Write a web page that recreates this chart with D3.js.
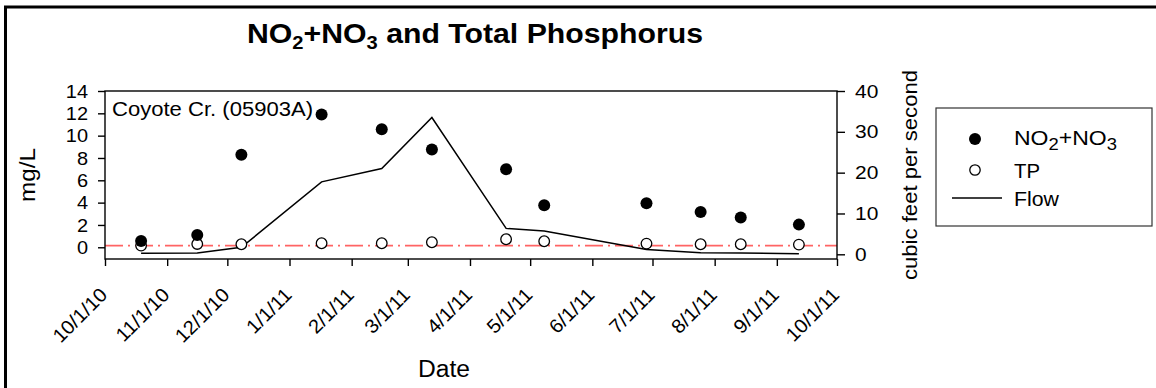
<!DOCTYPE html>
<html><head><meta charset="utf-8">
<script src="https://cdn.jsdelivr.net/npm/d3@7"></script>
<style>
body{margin:0;background:#fff}
svg{display:block}
text{font-family:"Liberation Sans",Arial,Helvetica,sans-serif;fill:#000}
</style>
</head><body>
<svg id="c" width="1156" height="388"></svg>
<script>
// ---- data ----
const sampleDates = ["2010-10-19","2010-11-16","2010-12-08","2011-01-17","2011-02-16","2011-03-13",
                     "2011-04-19","2011-05-08","2011-06-28","2011-07-25","2011-08-14","2011-09-12"];
const no2no3 = [0.57, 1.1, 8.28, 11.9, 10.58, 8.75, 7.0, 3.77, 3.95, 3.17, 2.66, 2.03];
const totalP = [0.15, 0.3, 0.27, 0.36, 0.36, 0.45, 0.72, 0.54, 0.33, 0.27, 0.27, 0.24];
const flowCfs = [0.25, 0.3, 1.7, 17.75, 21.0, 33.5, 6.35, 5.7, 1.2, 0.4, 0.3, 0.15];
const xTickDates = ["2010-10-01","2010-11-01","2010-12-01","2011-01-01","2011-02-01","2011-03-01",
                    "2011-04-01","2011-05-01","2011-06-01","2011-07-01","2011-08-01","2011-09-01","2011-10-01"];
const leftTicks = [0, 2, 4, 6, 8, 10, 12, 14];
const rightTicks = [0, 10, 20, 30, 40];
const criterionLine = 0.15;
const siteLabel = "Coyote Cr. (05903A)";

const parse = d3.utcParse("%Y-%m-%d");

const svg = d3.select("#c");
const L = 105, R = 837, T = 91, B = 259;

function stretch(sel, sx) {
  sel.each(function () {
    const w = this.getComputedTextLength();
    this.setAttribute("textLength", (w * sx).toFixed(1));
    this.setAttribute("lengthAdjust", "spacingAndGlyphs");
  });
}

// outer border (clipped by the canvas on right and bottom)
svg.append("rect").attr("x", 5.5).attr("y", 7).attr("width", 1300).attr("height", 600)
  .attr("fill", "none").attr("stroke", "#000").attr("stroke-width", 3);

const x = d3.scaleUtc().domain([parse("2010-10-01"), parse("2011-10-01")]).range([L, R]);
const yL = d3.scaleLinear().domain([-1.05, 14]).range([B, T]);
const yR = d3.scaleLinear().domain([-1.15, 40]).range([B, T]);

// axes
const gx = svg.append("g").attr("transform", `translate(0,${B})`)
  .attr("font-family", null).attr("font-size", null)
  .call(d3.axisBottom(x).tickValues(xTickDates.map(parse)).tickFormat(d3.utcFormat("%-m/%-d/%y"))
    .tickSize(7).tickSizeOuter(0));
gx.attr("font-family", null).attr("font-size", 19.5);
gx.select(".domain").remove();
gx.selectAll(".tick line").attr("stroke-width", 1.4);
gx.selectAll(".tick text").attr("y", null).attr("dy", null)
  .attr("transform", "translate(3,37) rotate(-45)").attr("text-anchor", "end")
  .call(stretch, 1.04);

const gl = svg.append("g").attr("transform", `translate(${L},0)`)
  .call(d3.axisLeft(yL).tickValues(leftTicks).tickSize(7).tickPadding(10).tickSizeOuter(0));
gl.attr("font-family", null).attr("font-size", 19);
gl.select(".domain").remove();
gl.selectAll(".tick line").attr("stroke-width", 1.4);
gl.selectAll(".tick text").call(stretch, 1.05);

const gr = svg.append("g").attr("transform", `translate(${R},0)`)
  .call(d3.axisRight(yR).tickValues(rightTicks).tickSize(8).tickPadding(10).tickSizeOuter(0));
gr.attr("font-family", null).attr("font-size", 19);
gr.select(".domain").remove();
gr.selectAll(".tick line").attr("stroke-width", 1.4);
gr.selectAll(".tick text").call(stretch, 1.1);

// criterion dashed line
svg.append("line").attr("x1", L).attr("x2", R).attr("y1", yL(criterionLine)).attr("y2", yL(criterionLine))
  .attr("stroke", "#ff6464").attr("stroke-width", 1.6).attr("stroke-dasharray", "18,5,2,5");

// flow line
const pts = sampleDates.map((d, i) => ({ d: parse(d), n: no2no3[i], p: totalP[i], f: flowCfs[i] }));
svg.append("path").datum(pts)
  .attr("d", d3.line().x(d => x(d.d)).y(d => yR(d.f)))
  .attr("fill", "none").attr("stroke", "#000").attr("stroke-width", 1.5);

// TP open circles
svg.append("g").selectAll("circle").data(pts).join("circle")
  .attr("cx", d => x(d.d)).attr("cy", d => yL(d.p)).attr("r", 5.3)
  .attr("fill", "#fff").attr("stroke", "#000").attr("stroke-width", 1.3);
// NO2+NO3 filled circles
svg.append("g").selectAll("circle").data(pts).join("circle")
  .attr("cx", d => x(d.d)).attr("cy", d => yL(d.n)).attr("r", 6).attr("fill", "#000");

// frame
svg.append("rect").attr("x", L).attr("y", T).attr("width", R - L).attr("height", B - T)
  .attr("fill", "none").attr("stroke", "#000").attr("stroke-width", 1.4);

// title
const title = svg.append("text").attr("x", 247).attr("y", 43).attr("font-size", 27).attr("font-weight", "bold");
title.append("tspan").text("NO");
title.append("tspan").attr("font-size", 18).attr("dy", 6).text("2");
title.append("tspan").attr("dy", -6).text("+NO");
title.append("tspan").attr("font-size", 18).attr("dy", 6).text("3");
title.append("tspan").attr("dy", -6).text(" and Total Phosphorus");
title.attr("textLength", 456).attr("lengthAdjust", "spacingAndGlyphs");

// site label
svg.append("text").attr("x", 112).attr("y", 116).attr("font-size", 20).text(siteLabel)
  .attr("textLength", 201).attr("lengthAdjust", "spacingAndGlyphs");

// axis titles
svg.append("text").attr("transform", "translate(35,175) rotate(-90)").attr("text-anchor", "middle")
  .attr("font-size", 22).text("mg/L").attr("textLength", 54).attr("lengthAdjust", "spacingAndGlyphs");
svg.append("text").attr("transform", "translate(917,175) rotate(-90)").attr("text-anchor", "middle")
  .attr("font-size", 19.5).text("cubic feet per second").attr("textLength", 210).attr("lengthAdjust", "spacingAndGlyphs");
svg.append("text").attr("x", 444).attr("y", 377).attr("text-anchor", "middle")
  .attr("font-size", 23).text("Date").attr("textLength", 52).attr("lengthAdjust", "spacingAndGlyphs");

// legend
const lg = svg.append("g");
lg.append("rect").attr("x", 936).attr("y", 108).attr("width", 216).attr("height", 118)
  .attr("fill", "#fff").attr("stroke", "#333").attr("stroke-width", 1.2);
lg.append("circle").attr("cx", 975).attr("cy", 139).attr("r", 6).attr("fill", "#000");
lg.append("circle").attr("cx", 975).attr("cy", 170).attr("r", 5.2).attr("fill", "#fff")
  .attr("stroke", "#000").attr("stroke-width", 1.3);
lg.append("line").attr("x1", 952).attr("x2", 1002).attr("y1", 198).attr("y2", 198)
  .attr("stroke", "#000").attr("stroke-width", 1.5);
const ln = lg.append("text").attr("x", 1014).attr("y", 145).attr("font-size", 20);
ln.append("tspan").text("NO");
ln.append("tspan").attr("font-size", 16).attr("dy", 5).text("2");
ln.append("tspan").attr("dy", -5).text("+NO");
ln.append("tspan").attr("font-size", 16).attr("dy", 5).text("3");
ln.attr("textLength", 103).attr("lengthAdjust", "spacingAndGlyphs");
lg.append("text").attr("x", 1014).attr("y", 178).attr("font-size", 20).text("TP")
  .attr("textLength", 26).attr("lengthAdjust", "spacingAndGlyphs");
lg.append("text").attr("x", 1014).attr("y", 206).attr("font-size", 20).text("Flow")
  .attr("textLength", 45).attr("lengthAdjust", "spacingAndGlyphs");
</script>
</body></html>
